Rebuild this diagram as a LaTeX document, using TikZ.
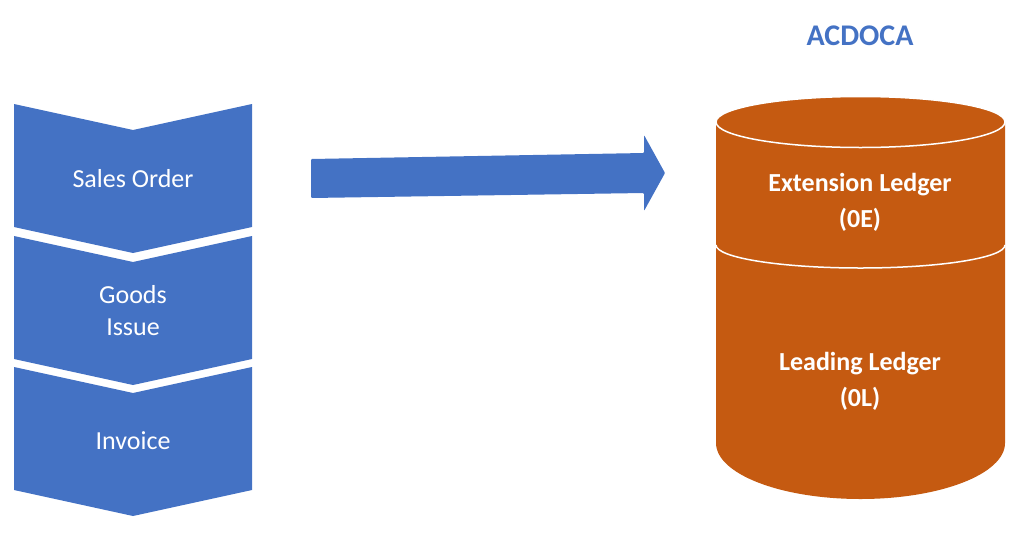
\documentclass[tikz,border=0pt]{standalone}
\usepackage{fontspec}
\setmainfont{Carlito}
\definecolor{stepblue}{HTML}{4472C4}
\definecolor{dborange}{HTML}{C55A11}
\tikzset{
    steptext/.style={text=white, align=center, font=\fontsize{26}{32}\selectfont},
    dbtext/.style={text=white, align=center, font=\fontsize{26}{36}\selectfont\bfseries},
}
\begin{document}
\begin{tikzpicture}[x=1pt, y=-1pt]

    \useasboundingbox (0,0) rectangle (1024,541);

    % Chevrons
    \foreach \t in {104, 236, 367} {
        \fill[stepblue] (14,\t) -- (133,\t+26) -- (252,\t) -- (252,\t+123)
            -- (133,\t+149) -- (14,\t+123) -- cycle;
    }

    % Step labels
    \node[steptext] at (133, 179) (SO) {Sales Order};
    \node[steptext] at (133, 311) (GI) {Goods\\Issue};
    \node[steptext] at (133, 441) (IV) {Invoice};

    % Big arrow
    \fill[stepblue, rounded corners=1pt] (311,159) -- (644,153) -- (644,135) -- (665,173)
        -- (644,211) -- (644,193) -- (311,198) -- cycle;

    % Cylinder
    \fill[dborange] (716,122) -- (716,443)
        arc[start angle=180, end angle=0, x radius=144.5, y radius=56]
        -- (1005,122)
        arc[start angle=0, end angle=-180, x radius=144.5, y radius=25.5] -- cycle;
    \draw[white, line width=1.5pt] (860.5,122) ellipse[x radius=144.5, y radius=25.5];
    \draw[white, line width=1.5pt] (716,245)
        arc[start angle=180, end angle=0, x radius=144.5, y radius=23];

    % Cylinder labels
    \node[text=stepblue, font=\fontsize{30}{36}\selectfont\bfseries] at (860, 36) (DB) {ACDOCA};
    \node[dbtext] at (860, 202) (EL) {Extension Ledger\\(0E)};
    \node[dbtext] at (860, 381) (LL) {Leading Ledger\\(0L)};

\end{tikzpicture}
\end{document}
